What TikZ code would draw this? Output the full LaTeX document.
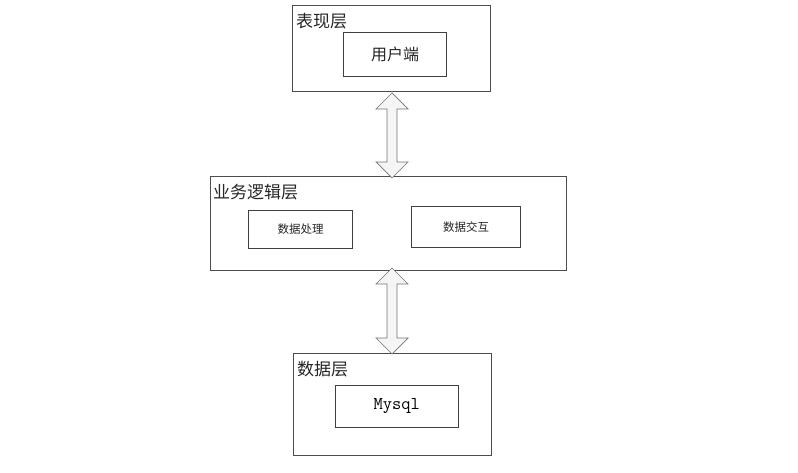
\documentclass[tikz,border=0pt]{standalone}
\usepackage{fontspec}
\newfontfamily\cjk{Noto Sans CJK SC}
\begin{document}
\begin{tikzpicture}[x=1pt,y=-1pt,
  layer/.style={draw=black!70,line width=0.8pt,fill=white,rectangle,inner sep=0pt},
  inbox/.style={draw=black!75,line width=0.8pt,fill=white,rectangle,inner sep=0pt},
  title/.style={anchor=west,inner sep=0pt,font=\cjk\fontsize{17}{17}\selectfont,text=black!85},
  dblarrow/.style={draw=black!55,fill=black!4,line width=0.7pt,line join=miter}
]
\useasboundingbox (0,0) rectangle (798,473);
% layers
\node[layer,minimum width=198pt,minimum height=86.7pt] (top) at (391.7,48.3) {};
\node[layer,minimum width=356pt,minimum height=94.7pt] (mid) at (388.7,223.3) {};
\node[layer,minimum width=198pt,minimum height=101.7pt] (bot) at (392.3,404.2) {};
% titles
\node[title] (t1) at (296,21) {表现层};
\node[title] (t2) at (213,192) {业务逻辑层};
\node[title] (t3) at (297,369) {数据层};
% inner boxes
\node[inbox,minimum width=103.3pt,minimum height=43.3pt,font=\cjk\fontsize{16}{16}\selectfont,text=black!85] (user) at (395,54.3) {用户端};
\node[inbox,minimum width=104.3pt,minimum height=38.3pt,font=\cjk\fontsize{11.5}{12}\selectfont,text=black!85] (proc) at (300.5,229.2) {数据处理};
\node[inbox,minimum width=109pt,minimum height=40.6pt,font=\cjk\fontsize{11.5}{12}\selectfont,text=black!85] (inter) at (466.2,227) {数据交互};
\node[inbox,minimum width=123.3pt,minimum height=41.6pt,font=\ttfamily\fontsize{18}{18}\selectfont] (mysql) at (396.7,406.5) {Mysql};
% double arrows
\coordinate (a1) at (392,93);
\coordinate (a2) at (392,178);
\coordinate (b1) at (392,268);
\coordinate (b2) at (392,354);
\draw[dblarrow] (a1) -- ++(16,16) -- ++(-11,0) -- ++(0,53) -- ++(11,0) -- (a2) -- ++(-16,-16) -- ++(11,0) -- ++(0,-53) -- ++(-11,0) -- cycle;
\draw[dblarrow] (b1) -- ++(16,16) -- ++(-11,0) -- ++(0,54) -- ++(11,0) -- (b2) -- ++(-16,-16) -- ++(11,0) -- ++(0,-54) -- ++(-11,0) -- cycle;
\end{tikzpicture}
\end{document}
